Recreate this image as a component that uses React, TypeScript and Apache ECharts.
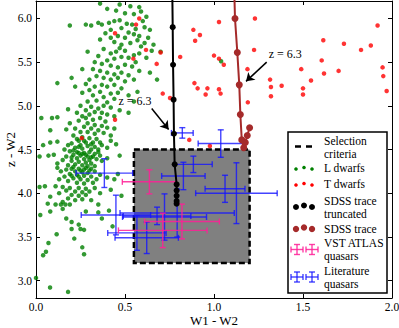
import React, { useEffect, useRef } from "react";
import * as echarts from "echarts";

const FONT = "Liberation Serif, DejaVu Serif, serif";

const xRange = [0, 2];
const yRange = [2.8, 6.2];
const tickStep = 0.5;

// Selection criteria box [xmin, ymin, xmax, ymax]
const selectionBox = [0.55, 3.2, 1.2, 4.5];

// L dwarfs (W1-W2, z-W2)
const lDwarfs: number[][] = [
  [0.36, 6.17], [0.47, 6.16], [0.53, 6.14], [0.58, 6.13], [0.4, 6.11], [0.45, 6.09], [0.5, 6.06], [0.55, 6.05], [0.59, 6.08], [0.62, 6.02],
  [0.19, 5.92], [0.28, 5.93], [0.31, 5.92], [0.35, 5.95], [0.37, 5.93], [0.41, 5.95], [0.44, 5.97], [0.47, 5.98], [0.51, 5.94], [0.54, 5.93],
  [0.6, 5.97], [0.61, 5.9], [0.56, 5.88], [0.48, 5.89], [0.42, 5.87], [0.64, 5.87],
  [0.52, 5.84], [0.55, 5.82], [0.58, 5.8], [0.5, 5.78], [0.46, 5.8], [0.42, 5.78], [0.39, 5.83], [0.57, 5.75], [0.61, 5.72], [0.53, 5.72],
  [0.48, 5.7], [0.44, 5.73], [0.36, 5.76], [0.63, 5.78], [0.66, 5.7], [0.59, 5.68],
  [0.47, 5.66], [0.45, 5.62], [0.5, 5.63], [0.42, 5.6], [0.38, 5.65], [0.55, 5.58], [0.52, 5.55], [0.48, 5.56], [0.44, 5.54], [0.4, 5.52],
  [0.35, 5.57], [0.58, 5.6], [0.62, 5.55], [0.65, 5.63], [0.7, 5.62], [0.56, 5.5], [0.33, 5.5], [0.37, 5.48], [0.42, 5.46], [0.46, 5.44],
  [0.5, 5.47], [0.54, 5.45], [0.29, 5.62], [1.04, 5.51],
  [0.26, 5.42], [0.32, 5.42], [0.36, 5.4], [0.4, 5.38], [0.44, 5.36], [0.48, 5.38], [0.52, 5.35], [0.58, 5.4], [0.64, 5.38], [0.34, 5.34],
  [0.38, 5.32], [0.42, 5.3], [0.46, 5.32], [0.3, 5.3], [0.5, 5.28], [0.55, 5.3], [0.68, 5.3], [0.28, 5.25], [0.2, 5.32], [0.37, 5.24],
  [0.33, 5.22], [0.4, 5.22], [0.44, 5.24], [0.48, 5.2], [0.3, 5.18], [0.36, 5.16], [0.42, 5.14], [0.46, 5.15], [0.26, 5.15], [0.32, 5.12],
  [0.38, 5.1], [0.52, 5.12], [0.57, 5.16], [0.22, 5.22], [0.12, 5.26], [0.34, 5.06], [0.4, 5.04], [0.29, 5.05], [0.44, 5.08], [0.55, 5.05],
  [0.25, 5.0], [0.31, 4.99], [0.35, 4.97], [0.38, 5.0], [0.42, 4.98], [0.28, 4.95], [0.33, 4.93], [0.37, 4.92], [0.4, 4.9], [0.47, 4.95],
  [0.23, 4.92], [0.3, 4.9], [0.26, 4.88], [0.18, 4.96], [0.52, 4.92], [0.44, 4.88],
  [0.28, 4.86], [0.32, 4.84], [0.36, 4.86], [0.39, 4.82], [0.24, 4.83], [0.29, 4.8], [0.33, 4.78], [0.37, 4.77], [0.27, 4.76], [0.31, 4.74],
  [0.35, 4.72], [0.22, 4.74], [0.4, 4.75], [0.25, 4.7], [0.29, 4.7], [0.33, 4.68], [0.38, 4.69], [0.17, 4.73], [0.09, 4.86], [0.03, 4.86],
  [0.12, 4.87], [0.44, 4.74], [0.19, 4.8], [0.42, 4.66], [0.08, 4.72],
  [0.21, 4.66], [0.26, 4.64], [0.3, 4.63], [0.34, 4.62], [0.24, 4.6], [0.28, 4.58], [0.32, 4.58], [0.36, 4.58], [0.2, 4.57], [0.25, 4.55],
  [0.29, 4.54], [0.33, 4.53], [0.37, 4.55], [0.22, 4.52], [0.26, 4.51], [0.31, 4.5], [0.35, 4.5], [0.4, 4.52], [0.18, 4.55], [0.12, 4.59],
  [0.08, 4.58], [0.04, 4.55], [0.42, 4.6], [0.16, 4.5], [0.45, 4.56], [0.23, 4.62], [0.27, 4.6], [0.31, 4.56], [0.21, 4.49], [0.24, 4.53],
  [0.19, 4.48], [0.23, 4.47], [0.27, 4.46], [0.3, 4.47], [0.33, 4.45], [0.21, 4.44], [0.25, 4.43], [0.29, 4.42], [0.32, 4.42], [0.36, 4.43],
  [0.17, 4.42], [0.23, 4.4], [0.27, 4.39], [0.3, 4.38], [0.34, 4.39], [0.2, 4.37], [0.24, 4.36], [0.28, 4.35], [0.31, 4.34], [0.15, 4.38],
  [0.37, 4.37], [0.22, 4.33], [0.26, 4.32], [0.29, 4.31], [0.33, 4.31], [0.12, 4.34], [0.18, 4.32], [0.1, 4.44], [0.07, 4.43], [0.4, 4.4],
  [0.02, 4.42], [0.47, 4.43], [0.26, 4.45], [0.35, 4.47], [0.2, 4.41], [0.28, 4.44], [0.24, 4.46], [0.31, 4.41],
  [0.2, 4.28], [0.24, 4.28], [0.27, 4.27], [0.3, 4.26], [0.17, 4.27], [0.22, 4.25], [0.26, 4.24], [0.29, 4.23], [0.33, 4.25], [0.14, 4.25],
  [0.19, 4.22], [0.23, 4.21], [0.27, 4.2], [0.31, 4.19], [0.36, 4.21], [0.16, 4.19], [0.21, 4.17], [0.25, 4.16], [0.29, 4.15], [0.13, 4.16],
  [0.34, 4.16], [0.18, 4.14], [0.23, 4.12], [0.27, 4.11], [0.4, 4.18], [0.44, 4.16], [0.12, 4.29], [0.32, 4.12], [0.46, 4.22], [0.25, 4.26],
  [0.21, 4.3], [0.28, 4.29], [0.31, 4.28], [0.24, 4.19], [0.2, 4.2],
  [0.02, 4.07], [0.05, 4.08], [0.11, 4.08], [0.15, 4.07], [0.19, 4.06], [0.24, 4.06], [0.28, 4.05], [0.33, 4.06], [0.17, 4.03], [0.22, 4.02],
  [0.26, 4.01], [0.3, 4.02], [0.13, 4.0], [0.2, 3.98], [0.24, 3.97], [0.28, 3.98], [0.36, 4.0], [0.42, 4.04], [0.48, 3.97], [0.08, 3.96],
  [0.18, 3.94], [0.22, 3.92], [0.26, 3.93], [0.15, 3.9], [0.31, 3.92],
  [0.066, 3.88], [0.11, 3.87], [0.14, 3.87], [0.165, 3.87], [0.19, 3.87], [0.15, 3.82], [0.28, 3.79], [0.35, 3.87], [0.35, 3.78], [0.41, 3.8],
  [0.37, 3.71], [0.43, 3.62], [0.024, 3.75], [0.08, 3.79], [0.17, 3.71], [0.2, 3.67], [0.24, 3.64], [0.2, 3.59], [0.25, 3.59], [0.27, 3.58],
  [0.116, 3.53], [0.215, 3.48], [0.07, 3.43], [0.056, 3.33], [0.04, 3.29], [0.26, 3.38], [0.27, 3.3], [0.0, 3.03], [0.079, 2.92], [0.18, 2.87],
];

// T dwarfs
const tDwarfs: number[][] = [
  [0.444, 5.83], [0.58, 6.0], [0.562, 5.93], [0.618, 5.64], [0.547, 5.54], [0.7, 5.61], [0.678, 5.48], [0.81, 5.56], [0.884, 5.87], [0.921, 5.81],
  [0.894, 5.745], [1.028, 5.96], [1.23, 6.0], [1.0, 5.575], [1.028, 5.54], [1.055, 5.47], [1.225, 5.64], [1.188, 5.42], [1.315, 5.3], [1.32, 5.215],
  [1.32, 5.11], [1.38, 5.23], [1.19, 5.04], [0.89, 5.26], [0.908, 5.2], [0.963, 5.2], [0.953, 5.13], [1.028, 5.19], [1.037, 5.14], [0.712, 5.14],
  [0.753, 5.09], [1.49, 5.42], [1.545, 5.29], [1.5, 5.2], [1.5, 5.13], [1.614, 5.75], [1.605, 5.52], [1.618, 5.37], [1.7, 5.4], [1.73, 5.71],
  [1.826, 5.64], [1.881, 5.69], [1.919, 5.92], [1.947, 5.44], [1.951, 5.34], [1.97, 5.17], [0.977, 4.54], [0.861, 4.61], [0.444, 4.84], [0.257, 4.63],
];

// SDSS quasar colour traces
const sdssTruncated: number[][] = [
  [0.764, 6.6], [0.768, 5.9], [0.77, 5.47], [0.773, 5.07], [0.775, 4.68], [0.779, 4.33], [0.79, 4.1], [0.79, 4.03], [0.79, 3.97], [0.79, 3.91], [0.79, 3.88],
];
const sdssTrace: number[][] = [
  [1.11, 6.6], [1.118, 6.0], [1.131, 5.61], [1.142, 5.24], [1.148, 4.9], [1.156, 4.61], [1.167, 4.52], [1.176, 4.58], [1.187, 4.66], [1.2, 4.75],
];

// quasars: [x, y, xerr, yerr]
const vstQuasars: number[][] = [
  [0.637, 4.13, 0.152, 0.138],
  [0.712, 3.574, 0.249, 0.197],
  [0.82, 3.676, 0.21, 0.199],
];
const litQuasars: number[][] = [
  [0.822, 4.69, 0.061, 0.06],
  [1.038, 4.568, 0.127, 0.157],
  [0.884, 4.33, 0.106, 0.094],
  [0.828, 4.197, 0.122, 0.157],
  [1.062, 4.05, 0.112, 0.155],
  [1.126, 4.0, 0.229, 0.348],
  [0.384, 4.23, 0.159, 0.165],
  [0.449, 3.75, 0.195, 0.227],
  [0.793, 3.773, 0.321, 0.275],
  [0.722, 3.727, 0.236, 0.265],
  [0.567, 3.545, 0.164, 0.199],
  [0.622, 3.489, 0.178, 0.18],
  [0.68, 3.74, 0.19, 0.1],
];

const annotationText = "z = 6.3";
const annBlack = { text: [0.556, 5.05], from: [0.65, 4.97], to: [0.745, 4.73] };
const annBrown = { text: [1.4, 5.59], from: [1.296, 5.5], to: [1.18, 5.28] };

function errRender(color: string) {
  return (params: any, api: any) => {
    const x = api.value(0), y = api.value(1), xe = api.value(2), ye = api.value(3);
    const c = api.coord([x, y]);
    const l = api.coord([x - xe, y]);
    const r = api.coord([x + xe, y]);
    const t = api.coord([x, y + ye]);
    const b = api.coord([x, y - ye]);
    const cap = 3;
    const style = { stroke: color, lineWidth: 1.4, fill: null };
    const ln = (x1: number, y1: number, x2: number, y2: number) => ({ type: "line", shape: { x1, y1, x2, y2 }, style });
    return {
      type: "group",
      children: [
        ln(l[0], c[1], r[0], c[1]),
        ln(c[0], t[1], c[0], b[1]),
        ln(l[0], c[1] - cap, l[0], c[1] + cap),
        ln(r[0], c[1] - cap, r[0], c[1] + cap),
        ln(c[0] - cap, t[1], c[0] + cap, t[1]),
        ln(c[0] - cap, b[1], c[0] + cap, b[1]),
      ],
    };
  };
}

function legendCross(cx: number, cy: number, color: string) {
  const st = { stroke: color, lineWidth: 1.4 };
  return [
    { type: "line", shape: { x1: cx - 6, y1: cy, x2: cx + 6, y2: cy }, style: st, z: 101 },
    { type: "line", shape: { x1: cx, y1: cy - 5, x2: cx, y2: cy + 5 }, style: st, z: 101 },
    { type: "line", shape: { x1: cx - 6, y1: cy - 3, x2: cx - 6, y2: cy + 3 }, style: st, z: 101 },
    { type: "line", shape: { x1: cx + 6, y1: cy - 3, x2: cx + 6, y2: cy + 3 }, style: st, z: 101 },
    { type: "line", shape: { x1: cx - 3, y1: cy - 5, x2: cx + 3, y2: cy - 5 }, style: st, z: 101 },
    { type: "line", shape: { x1: cx - 3, y1: cy + 5, x2: cx + 3, y2: cy + 5 }, style: st, z: 101 },
  ];
}

function dots(y: number, r: number, color: string) {
  return [
    { type: "circle", shape: { cx: 296, cy: y + 1.5, r }, style: { fill: color }, z: 101 },
    { type: "circle", shape: { cx: 304, cy: y, r }, style: { fill: color }, z: 101 },
    { type: "circle", shape: { cx: 312, cy: y + 1.5, r }, style: { fill: color }, z: 101 },
  ];
}

function ltext(x: number, y: number, text: string) {
  return {
    type: "text", x, y, z: 101,
    style: { text, fill: "#000", fontFamily: FONT, fontSize: 11.5, lineHeight: 13, verticalAlign: "middle", align: "left" },
  };
}

export default function App() {
  const ref = useRef<HTMLDivElement>(null);
  useEffect(() => {
    const chart = echarts.init(ref.current!, null, { renderer: "svg" });
    const axisCommon = {
      type: "value",
      axisLine: { show: true, onZero: false, lineStyle: { color: "#000", width: 1 } },
      axisTick: { show: true, inside: true, length: 4, lineStyle: { color: "#000", width: 1 } },
      splitLine: { show: false },
    };
    const blue = "rgba(20,20,255,0.8)";
    const pink = "rgba(255,30,150,0.85)";
    const option: any = {
      animation: false,
      backgroundColor: "#fff",
      grid: { left: 36, right: 7, top: 1, bottom: 30, containLabel: false, outerBoundsMode: "none" },
      xAxis: [
        {
          ...axisCommon,
          min: xRange[0], max: xRange[1], interval: tickStep, position: "bottom",
          axisLabel: { color: "#000", fontFamily: FONT, fontSize: 11.5, lineHeight: 12, margin: 3, formatter: (v: number) => v.toFixed(1) },
          name: "W1 - W2", nameLocation: "middle", nameGap: 16, nameMoveOverlap: false,
          nameTextStyle: { color: "#000", fontFamily: FONT, fontSize: 13, lineHeight: 13 },
        },
        { ...axisCommon, min: xRange[0], max: xRange[1], interval: tickStep, position: "top", axisLabel: { show: false } },
      ],
      yAxis: [
        {
          ...axisCommon,
          min: yRange[0], max: yRange[1], minInterval: tickStep, maxInterval: tickStep, splitNumber: 7, position: "left",
          axisLabel: { color: "#000", fontFamily: FONT, fontSize: 11.5, margin: 4, showMinLabel: false, showMaxLabel: false, formatter: (v: number) => v.toFixed(1) },
          name: "z - W2", nameLocation: "middle", nameGap: 19, nameRotate: 90, nameMoveOverlap: false,
          nameTextStyle: { color: "#000", fontFamily: FONT, fontSize: 13, lineHeight: 13 },
        },
        { ...axisCommon, min: yRange[0], max: yRange[1], minInterval: tickStep, maxInterval: tickStep, splitNumber: 7, position: "right", axisLabel: { show: false } },
      ],
      series: [
        {
          type: "custom", name: "Selection criteria", z: 1,
          data: [selectionBox],
          renderItem: (p: any, api: any) => {
            const a = api.coord([api.value(0), api.value(3)]);
            const b = api.coord([api.value(2), api.value(1)]);
            return {
              type: "rect",
              shape: { x: a[0], y: a[1], width: b[0] - a[0], height: b[1] - a[1] },
              style: { fill: "#808080", stroke: "#000", lineWidth: 2.5, lineDash: [6, 3] },
            };
          },
        },
        { type: "scatter", name: "L dwarfs", z: 2, data: lDwarfs, symbolSize: 4.5, itemStyle: { color: "#008000" } },
        { type: "scatter", name: "T dwarfs", z: 2, data: tDwarfs, symbolSize: 4.5, itemStyle: { color: "#ff0000" } },
        { type: "custom", name: "Literature quasars", z: 3, data: litQuasars, renderItem: errRender(blue) },
        { type: "custom", name: "VST ATLAS quasars", z: 4, data: vstQuasars, renderItem: errRender(pink) },
        {
          type: "line", name: "SDSS trace truncated", z: 5, data: sdssTruncated, clip: true,
          symbol: "circle", symbolSize: 6, showSymbol: true,
          lineStyle: { color: "#000", width: 2 }, itemStyle: { color: "#000" },
          markLine: {
            silent: true, symbol: ["none", "arrow"], symbolSize: 8,
            lineStyle: { color: "#000", width: 1.5, type: "solid" }, label: { show: false },
            data: [[{ coord: annBlack.from }, { coord: annBlack.to }]],
          },
          markPoint: {
            symbol: "circle", symbolSize: 1, itemStyle: { color: "transparent" },
            label: { show: true, position: "inside", formatter: annotationText, color: "#000", fontFamily: FONT, fontSize: 12 },
            data: [{ coord: annBlack.text }],
          },
        },
        {
          type: "line", name: "SDSS trace", z: 5, data: sdssTrace, clip: true,
          symbol: "circle", symbolSize: 7, showSymbol: true,
          lineStyle: { color: "#a52a2a", width: 2 }, itemStyle: { color: "#a52a2a" },
          markLine: {
            silent: true, symbol: ["none", "arrow"], symbolSize: 8,
            lineStyle: { color: "#000", width: 1.5, type: "solid" }, label: { show: false },
            data: [[{ coord: annBrown.from }, { coord: annBrown.to }]],
          },
          markPoint: {
            symbol: "circle", symbolSize: 1, itemStyle: { color: "transparent" },
            label: { show: true, position: "inside", formatter: annotationText, color: "#000", fontFamily: FONT, fontSize: 12 },
            data: [{ coord: annBrown.text }],
          },
        },
      ],
      graphic: [
        { type: "rect", z: 100, shape: { x: 288, y: 132, width: 99, height: 161 }, style: { fill: "#fff", stroke: "#000", lineWidth: 1.5 } },
        { type: "line", z: 101, shape: { x1: 295, y1: 146.5, x2: 312, y2: 146.5 }, style: { stroke: "#000", lineWidth: 2.5, lineDash: [6, 5] } },
        ltext(324, 147, "Selection\ncriteria"),
        ...dots(167.5, 1.8, "#008000"),
        ltext(324, 168, "L dwarfs"),
        ...dots(183.5, 1.8, "#ff0000"),
        ltext(324, 184, "T dwarfs"),
        ...dots(205.5, 3, "#000"),
        ltext(324, 207, "SDSS trace\ntruncated"),
        ...dots(227.5, 3.2, "#a52a2a"),
        ltext(324, 229, "SDSS trace"),
        ...legendCross(297, 249.5, pink),
        ...legendCross(312, 249.5, pink),
        ltext(324, 249, "VST ATLAS\nquasars"),
        ...legendCross(297, 277, blue),
        ...legendCross(312, 277, blue),
        ltext(324, 277, "Literature\nquasars"),
      ],
    };
    chart.setOption(option);
    return () => chart.dispose();
  }, []);
  return <div ref={ref} style={{ position: "absolute", left: 0, top: 0, width: 399, height: 328 }} />;
}
